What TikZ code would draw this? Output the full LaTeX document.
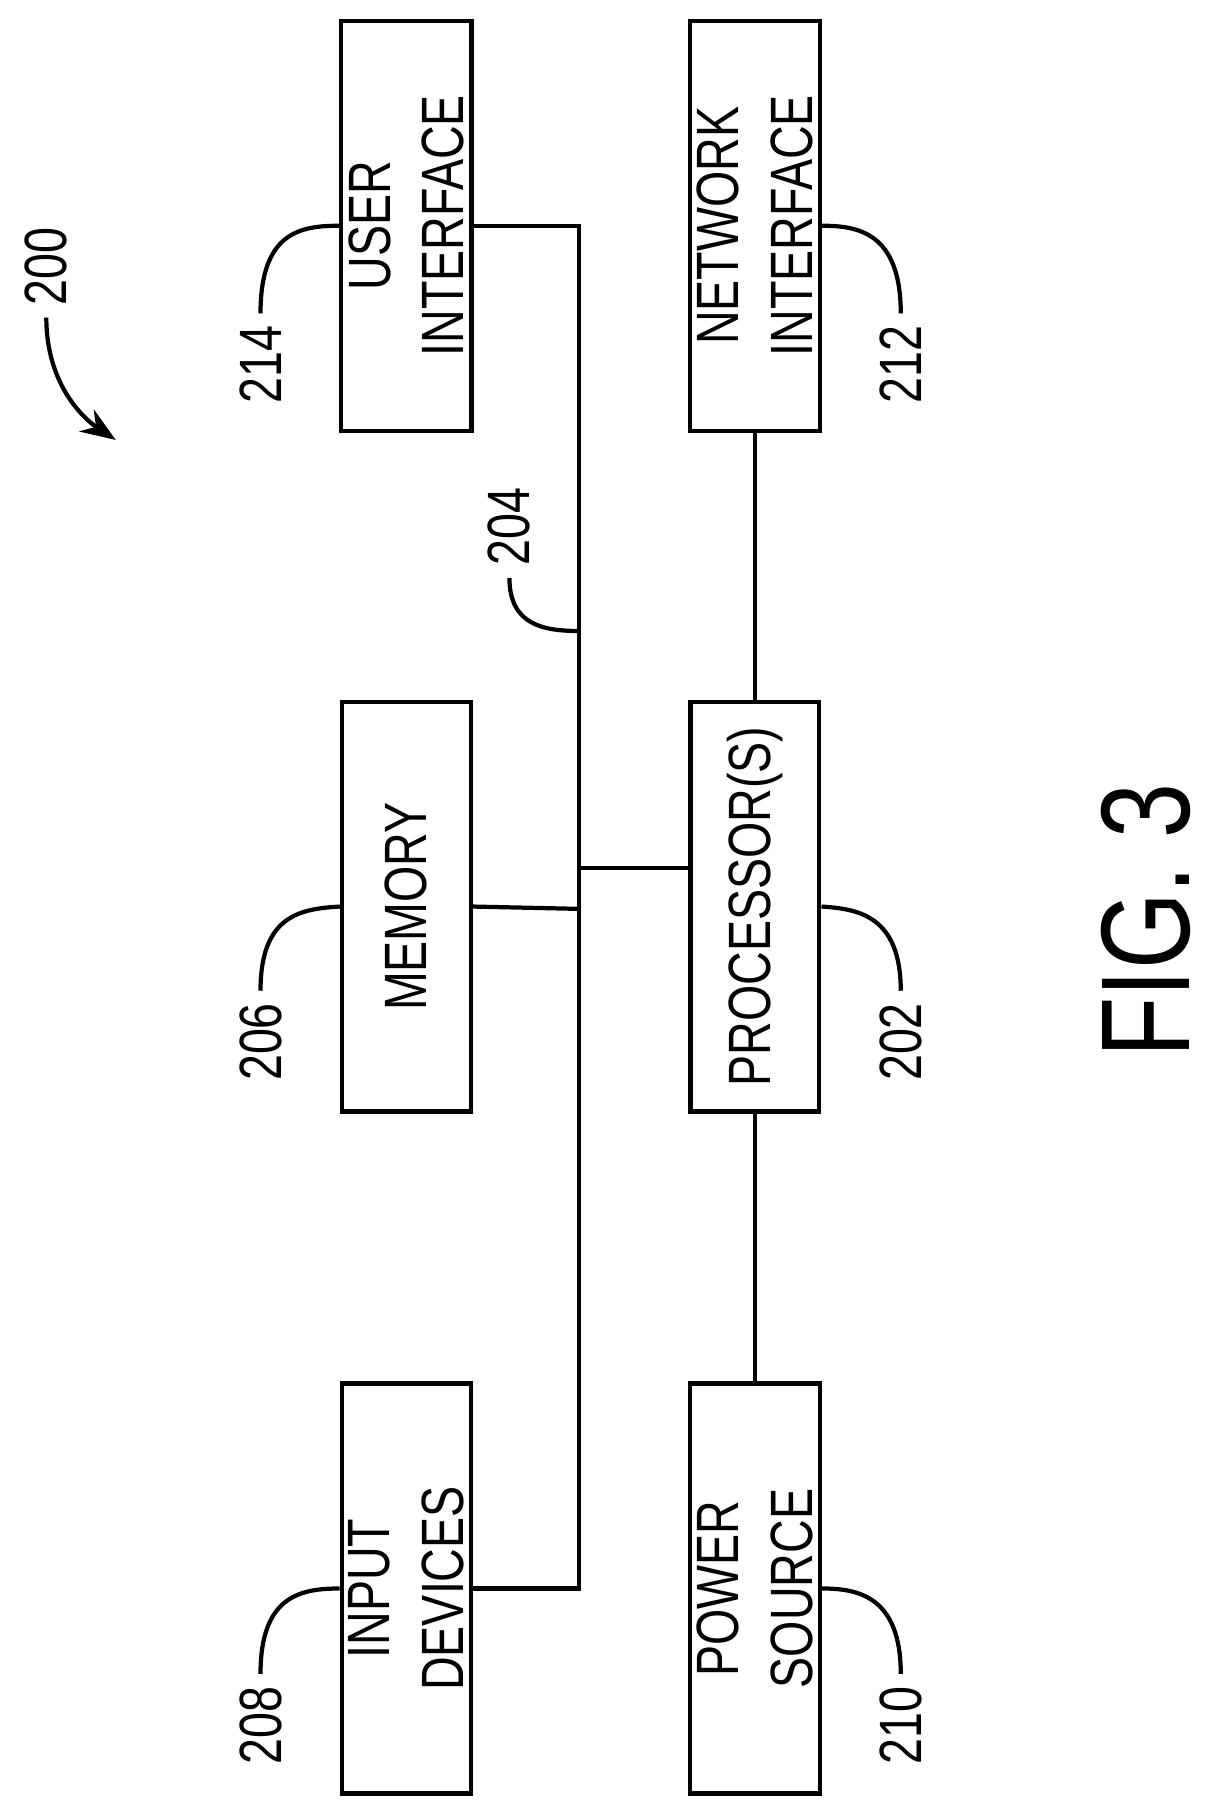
\documentclass[tikz,border=0pt]{standalone}
\usepackage{fontspec}
\setmainfont[FakeStretch=0.78]{Liberation Sans}
\usetikzlibrary{arrows.meta}
\begin{document}
\begin{tikzpicture}[x=0.01158cm,y=-0.01158cm]
    \useasboundingbox (0,0) rectangle (1050,1559);
    \begin{scope}[every node/.style={rectangle,draw,very thick,rotate=90,
        minimum width=4.1cm,minimum height=1.29cm,align=center,inner sep=2pt,
        font=\fontsize{17}{21}\selectfont}]
      \node (ui) at (351,195) {USER\\INTERFACE};
      \node (net) at (652,195) {NETWORK\\INTERFACE};
      \node (mem) at (351,783) {MEMORY};
      \node (proc) at (652,783) {PROCESSOR(S)};
      \node (inp) at (351,1372) {INPUT\\DEVICES};
      \node (pow) at (652,1372) {POWER\\SOURCE};
    \end{scope}

    \begin{scope}[every node/.style={rotate=90,font=\fontsize{17}{21}\selectfont}]
      \node (l214) at (225,315) {214};
      \node (l206) at (225,900) {206};
      \node (l208) at (225,1490) {208};
      \node (l212) at (778,315) {212};
      \node (l202) at (778,900) {202};
      \node (l210) at (778,1490) {210};
      \node (l204) at (440,455) {204};
      \node (l200) at (40,230) {200};
    \end{scope}
    \node[rotate=90,font=\fontsize{36}{42}\selectfont] (fig) at (990,795) {FIG. 3};

    \coordinate (b1) at (500,195);
    \coordinate (b2) at (500,1372);
    \coordinate (bm) at (500,785);
    \coordinate (bp) at (500,750);
    \coordinate (bt) at (500,545);

    \begin{scope}[very thick]
      \draw (ui.south) -- (b1) -- (b2) -- (inp.south);
      \draw (mem.south) -- (bm);
      \draw (bp) -- (proc.north |- bp);
      \draw (net.west) -- (proc.east);
      \draw (proc.west) -- (pow.east);
      % leaders
      \draw (l214.east) .. controls (225,200) and (260,195) .. (ui.north);
      \draw (l206.east) .. controls (225,790) and (260,785) .. (mem.north);
      \draw (l208.east) .. controls (225,1378) and (260,1372) .. (inp.north);
      \draw (l212.east) .. controls (778,200) and (740,195) .. (net.south);
      \draw (l202.east) .. controls (778,790) and (740,785) .. (proc.south);
      \draw (l210.east) .. controls (778,1378) and (740,1372) .. (pow.south);
      \draw (l204.west) .. controls (440,540) and (470,545) .. (bt);
      \draw[-{Stealth[length=10pt]}] (l200.west) .. controls (40,330) and (70,360) .. (100,380);
    \end{scope}
  \end{tikzpicture}
\end{document}
